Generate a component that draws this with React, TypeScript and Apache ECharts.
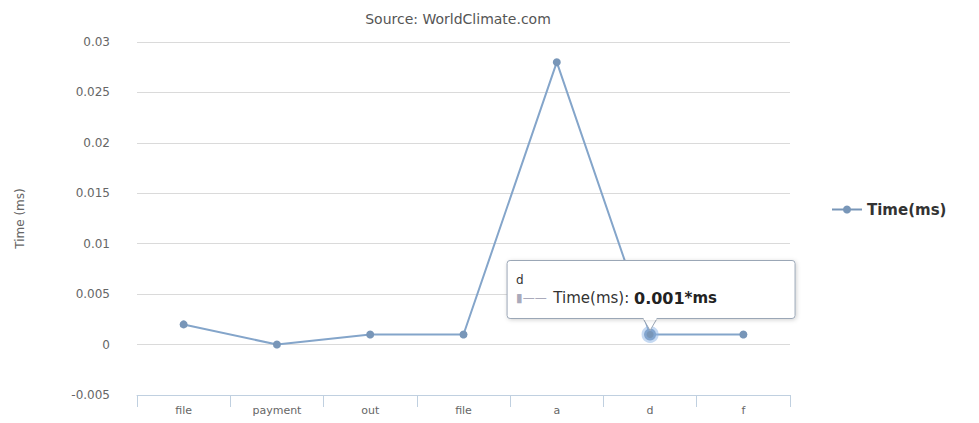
import React, { useEffect, useRef } from "react";
import * as echarts from "echarts";

const categories = ["file", "payment", "out", "file", "a", "d", "f"];
const timeValues = [0.002, 0, 0.001, 0.001, 0.028, 0.001, 0.001];
const seriesName = "Time(ms)";
const titleText = "Source: WorldClimate.com";
const yAxisName = "Time (ms)";
const yMin = -0.005;
const yMax = 0.03;
const yStep = 0.005;
const tooltipIndex = 5;
const valueSuffix = "ms";

const FONT = "DejaVu Sans";
const LINE_COLOR = "#7896b8";

export default function App() {
  const ref = useRef<HTMLDivElement>(null);
  useEffect(() => {
    if (!ref.current) return;
    const chart = echarts.init(ref.current, undefined, { renderer: "svg" });
    chart.setOption({
      animation: false,
      textStyle: { fontFamily: FONT },
      title: {
        text: titleText,
        left: 453,
        textAlign: "center",
        top: 7,
        textStyle: { fontFamily: FONT, fontSize: 14, fontWeight: "normal", color: "#555" },
      },
      grid: { left: 137, right: 189, top: 42, bottom: 28, containLabel: false },
      legend: {
        orient: "vertical",
        left: 826,
        top: 197,
        itemWidth: 30,
        itemHeight: 10,
        data: [seriesName],
        textStyle: { fontFamily: FONT, fontSize: 15, fontWeight: "bold", color: "#333" },
      },
      xAxis: {
        type: "category",
        data: categories,
        boundaryGap: true,
        axisLine: { onZero: false, lineStyle: { color: "#c0d0e0", width: 1 } },
        axisTick: { show: true, alignWithLabel: false, length: 12, lineStyle: { color: "#c0d0e0" } },
        axisLabel: { color: "#666", fontSize: 11, fontFamily: FONT, margin: 10 },
      },
      yAxis: {
        type: "value",
        min: yMin,
        max: yMax,
        interval: yStep,
        name: yAxisName,
        nameLocation: "middle",
        nameRotate: 90,
        nameGap: 111,
        nameTextStyle: { color: "#666", fontSize: 12, fontFamily: FONT },
        axisLine: { show: false },
        axisTick: { show: false },
        axisLabel: {
          color: "#666",
          fontSize: 12,
          fontFamily: FONT,
          margin: 27,
          formatter: (v: number) => String(+v.toFixed(3)),
        },
        splitLine: { lineStyle: { color: "#dadada", width: 1 } },
      },
      series: [
        {
          name: seriesName,
          type: "line",
          data: timeValues,
          color: LINE_COLOR,
          symbol: "circle",
          symbolSize: 8,
          z: 2,
          lineStyle: { width: 2, color: LINE_COLOR },
          itemStyle: { color: LINE_COLOR },
          emphasis: {
            scale: 1.5,
            itemStyle: { color: LINE_COLOR, borderColor: "rgba(140,180,230,0.5)", borderWidth: 5 },
          },
        },
      ],
    });
    chart.dispatchAction({ type: "highlight", seriesIndex: 0, dataIndex: tooltipIndex });

    const pt = chart.convertToPixel({ seriesIndex: 0 }, [tooltipIndex, timeValues[tooltipIndex]]) as number[];
    const bx = pt[0] - 143;
    const by = pt[1] - 74;
    const bw = 288;
    const bh = 58;
    const Z = 100;
    chart.setOption({
      graphic: [
        {
          type: "polygon",
          z: Z,
          zlevel: 0,
          shape: {
            points: [
              [bx + 143 - 7, by + bh],
              [bx + 143, by + bh + 12],
              [bx + 143 + 7, by + bh],
            ],
          },
          style: { fill: "#fff", stroke: "#9aa6b6", lineWidth: 1 },
        },
        {
          type: "rect",
          z: Z,
          shape: { x: bx, y: by, width: bw, height: bh, r: 3 },
          style: {
            fill: "#fff",
            stroke: "#9aa6b6",
            lineWidth: 1,
            shadowBlur: 4,
            shadowColor: "rgba(0,0,0,0.18)",
            shadowOffsetX: 1,
            shadowOffsetY: 1,
          },
        },
        {
          type: "rect",
          z: Z + 1,
          shape: { x: bx + 136.5, y: by + bh - 1.5, width: 13, height: 3 },
          style: { fill: "#fff" },
        },
        {
          type: "text",
          z: Z + 2,
          x: bx + 9,
          y: by + 14,
          style: {
            text: categories[tooltipIndex],
            font: `12px '${FONT}'`,
            fill: "#333",
          },
        },
        {
          type: "text",
          z: Z + 2,
          x: bx + 9,
          y: by + 30,
          style: {
            text: `{s|▮——}  {n|${seriesName}: }{b|${timeValues[tooltipIndex]}}{u|*${valueSuffix}}`,
            rich: {
              s: { fontSize: 12, fill: "#aab", fontFamily: FONT },
              n: { fontSize: 15, fill: "#333", fontFamily: FONT },
              b: { fontSize: 16, fill: "#222", fontWeight: "bold", fontFamily: FONT },
              u: { fontSize: 15, fill: "#222", fontWeight: "bold", fontFamily: FONT },
            },
          },
        },
      ],
    });
    return () => chart.dispose();
  }, []);
  return (
    <div
      ref={ref}
      style={{ position: "fixed", left: 0, top: 0, width: 979, height: 423, background: "#fff" }}
    />
  );
}
